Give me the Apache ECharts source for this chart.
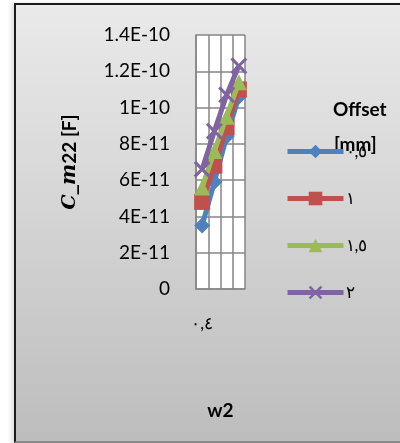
<!DOCTYPE html>
<html>
<head>
<meta charset="utf-8">
<script src="https://cdn.jsdelivr.net/npm/echarts@6/dist/echarts.min.js"></script>
<style>
  html, body { margin: 0; padding: 0; background: #fff; }
  .frame {
    position: absolute; left: 14px; top: 3px; width: 392px; height: 436px;
    border-left: 2px solid #1b1b1b; border-top: 2px solid #1b1b1b; border-bottom: 2px solid #8a8a8a;
    background: linear-gradient(#eaeaea, #bdbdbd);
    box-shadow: -3px 0 4px rgba(0,0,0,0.12);
  }
  #chart { position: absolute; left: 0; top: 0; width: 400px; height: 443px; }
</style>
</head>
<body>
<div class="frame"></div>
<div id="chart"></div>
<script>
// categories w2 (only the first label is shown in the picture)
const categories = ["٠,٤", "٠,٦", "٠,٨", "١"];
const yTicks = ["0", "2E-11", "4E-11", "6E-11", "8E-11", "1E-10", "1.2E-10", "1.4E-10"];

const seriesNames = ["٠,٥", "١", "١,٥", "٢"];
const off05 = [3.5e-11, 5.9e-11, 8.4e-11, 1.06e-10];
const off10 = [4.8e-11, 6.8e-11, 8.9e-11, 1.1e-10];
const off15 = [5.6e-11, 7.6e-11, 9.5e-11, 1.14e-10];
const off20 = [6.6e-11, 8.7e-11, 1.07e-10, 1.23e-10];

const colors = ["#4f81bd", "#c0504d", "#9bbb59", "#8064a2"];
const symbols = [
  "diamond",
  "rect",
  "triangle",
  "path://M0,1.3L1.3,0L5,3.7L8.7,0L10,1.3L6.3,5L10,8.7L8.7,10L5,6.3L1.3,10L0,8.7L3.7,5Z"
];
const sizes = [16, 16, 16, 17];

const chart = echarts.init(document.getElementById("chart"));
const font = "Lato, 'Open Sans', sans-serif";

const allData = [off05, off10, off15, off20];
const series = allData.map((d, i) => ({
  name: seriesNames[i],
  type: "line",
  data: d,
  symbol: symbols[i],
  symbolSize: sizes[i],
  showAllSymbol: true,
  lineStyle: { color: colors[i], width: 5 },
  itemStyle: { color: colors[i] },
  z: 2 + i
}));

chart.setOption({
  backgroundColor: "transparent",
  animation: false,
  textStyle: { fontFamily: font },
  grid: {
    left: 196, right: 155, top: 35, bottom: 154,
    show: true, backgroundColor: "#ffffff", borderWidth: 0
  },
  graphic: [
    {
      type: "text", left: 333, top: 100,
      style: { text: "Offset", font: "bold 19px " + font, fill: "#000" }
    },
    {
      type: "text", left: 334, top: 135,
      style: { text: "[mm]", font: "bold 19px " + font, fill: "#000" }
    }
  ],
  legend: {
    orient: "vertical",
    left: 285, top: 143, padding: 0,
    itemWidth: 56, itemHeight: 17, itemGap: 30,
    lineStyle: { width: 5 },
    textStyle: { fontSize: 17, color: "#000", fontFamily: font, padding: [0, 0, 0, -3] },
    data: seriesNames
  },
  xAxis: {
    type: "category",
    data: categories,
    boundaryGap: true,
    name: "w2",
    nameLocation: "middle",
    nameGap: 112,
    nameTextStyle: { fontSize: 19, fontWeight: "bold", color: "#000" },
    axisLine: { lineStyle: { color: "#868686", width: 1.5 } },
    axisTick: { show: false },
    axisLabel: { interval: 3, margin: 26, fontSize: 17, color: "#000" },
    splitLine: { show: true, interval: 0, lineStyle: { color: "#868686", width: 1.5 } }
  },
  yAxis: {
    type: "value",
    min: 0, max: 1.4e-10, interval: 2e-11,
    name: "{c|C_}{m|m}{a|22 [F]}",
    nameLocation: "middle",
    nameGap: 116,
    nameRotate: 90,
    nameTextStyle: {
      color: "#000",
      rich: {
        c: { fontSize: 19, fontWeight: "bold", fontStyle: "italic", fontFamily: "'DejaVu Serif', serif" },
        m: { fontSize: 20, fontWeight: "bold", fontStyle: "italic", fontFamily: "'DejaVu Serif', serif" },
        a: { fontSize: 19, fontWeight: "bold", fontFamily: font }
      }
    },
    axisLine: { show: true, lineStyle: { color: "#868686", width: 1.5 } },
    axisTick: { show: false },
    axisLabel: {
      margin: 26, fontSize: 19, color: "#000",
      formatter: v => yTicks[Math.round(v / 2e-11)]
    },
    splitLine: { lineStyle: { color: "#868686", width: 1.5 } }
  },
  series: series
});
</script>
</body>
</html>
